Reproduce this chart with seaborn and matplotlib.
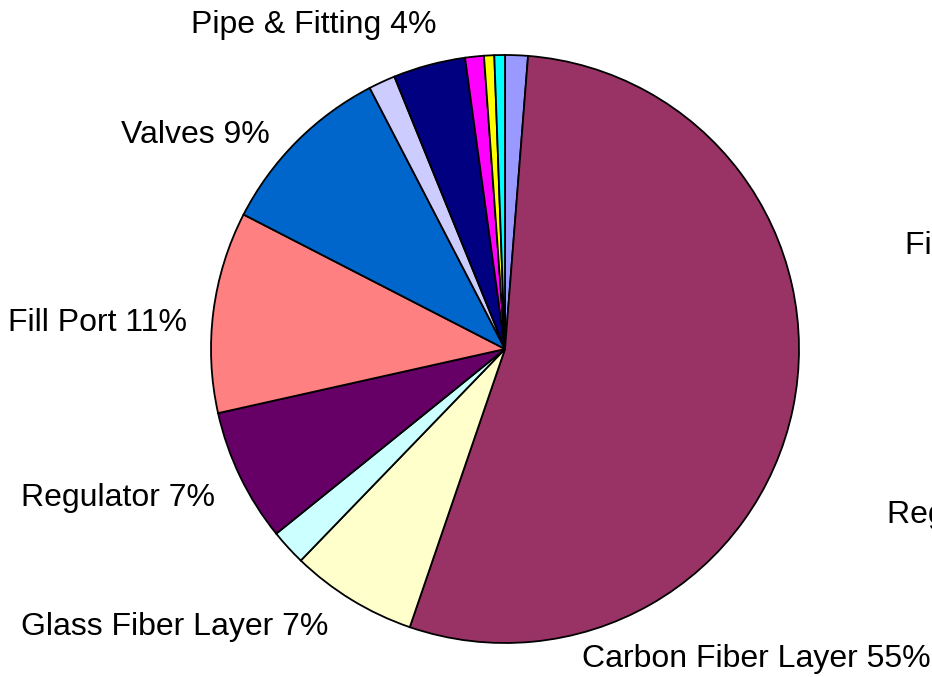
import matplotlib
matplotlib.use("Agg")
import matplotlib.pyplot as plt
import seaborn as sns

# slice shares (%), in drawing order, clockwise from 12 o'clock
categories = ["Item A", "Carbon Fiber Layer", "Glass Fiber Layer", "Item B",
              "Regulator", "Fill Port", "Valves", "Item C",
              "Pipe & Fitting", "Item D", "Item E", "Item F"]
shares = [1.25, 54.0, 6.97, 1.97, 7.31, 11.06, 9.83, 1.47, 3.97, 1.03, 0.56, 0.58]
colors = ["#9999FF", "#993366", "#FFFFCC", "#CCFFFF", "#660066", "#FF8080",
          "#0066CC", "#CCCCFF", "#000080", "#FF00FF", "#FFFF00", "#00FFFF"]

# label texts and where they sit (pixels from top-left)
label_texts = ["Pipe & Fitting 4%", "Valves 9%", "Fill Port 11%", "Regulator 7%",
               "Glass Fiber Layer 7%", "Carbon Fiber Layer 55%",
               "Fill Port 11%", "Regulator 7%"]
label_x = [191, 121, 8, 21, 21, 582, 905, 887]
label_y = [25, 135, 323, 498, 627, 659, 246, 515]

sns.set_theme(style="white")
plt.rcParams["font.family"] = ["Liberation Sans", "DejaVu Sans"]

W, H = 932, 677
fig = plt.figure(figsize=(W / 100, H / 100), dpi=100)
ax = fig.add_axes([0, 0, 1, 1])

ax.pie(shares, colors=colors, startangle=90, counterclock=False,
       center=(505, H - 349), radius=294, frame=True,
       wedgeprops=dict(edgecolor="black", linewidth=1.3))
ax.set_xlim(0, W)
ax.set_ylim(0, H)
ax.set_aspect("equal")
ax.axis("off")

# the two labels on the right run past the edge, as in the original
for t, x, y in zip(label_texts, label_x, label_y):
    ax.text(x, H - y, t, ha="left", va="center", fontsize=23, color="black",
            clip_on=False)

fig.savefig("out.png", dpi=100)
plt.close(fig)
